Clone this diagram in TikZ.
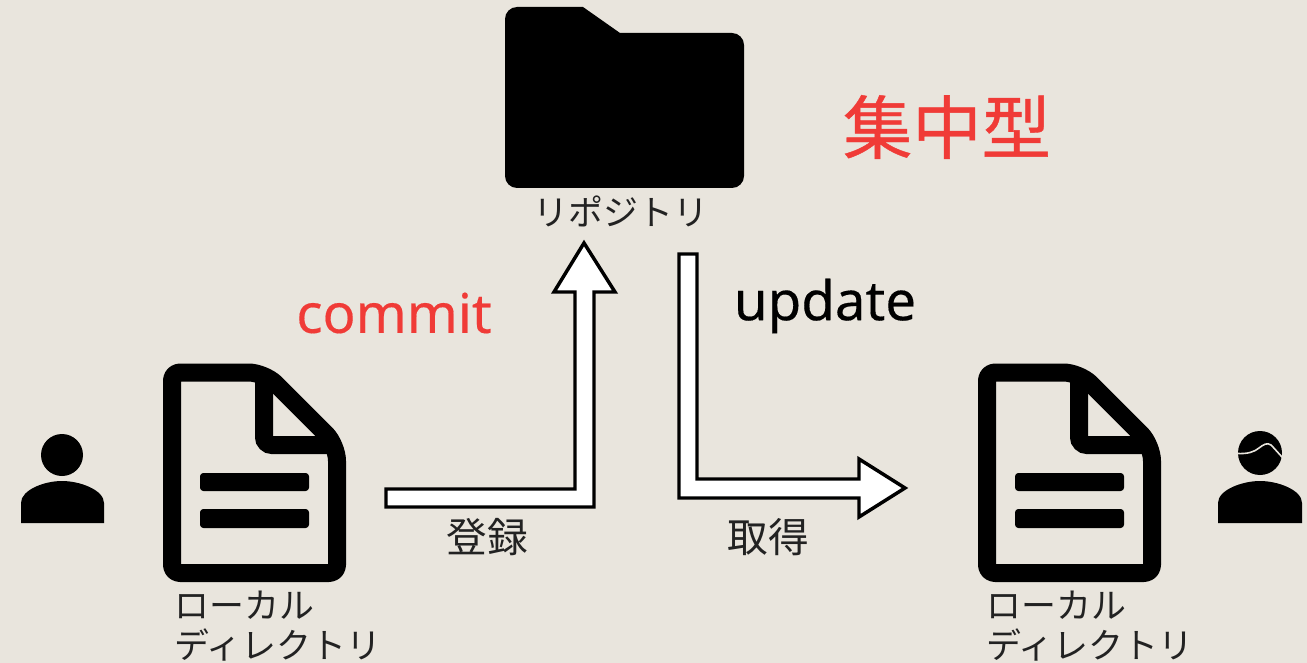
\documentclass[tikz,border=0pt]{standalone}
\usepackage{fontspec}
\setmainfont[FakeBold=0.3]{Noto Sans}
\newfontfamily\jpreg{Noto Sans CJK JP}
\newfontfamily\jpbold[FakeBold=0.6]{Noto Sans CJK JP}
\definecolor{bgc}{HTML}{E9E5DD}
\definecolor{redc}{HTML}{F03B37}
\definecolor{txtc}{HTML}{222222}
\tikzset{
  x=0.75pt,y=-0.75pt,
  kana/.style={font=\jpreg\fontsize{26.2}{30}\selectfont,text=txtc,inner sep=0pt,align=left,anchor=north west},
  kanji/.style={font=\jpreg\fontsize{30.5}{36}\selectfont,text=txtc,inner sep=0pt},
  title/.style={font=\jpbold\fontsize{52}{60}\selectfont,text=redc,inner sep=0pt},
  latin/.style={font=\fontsize{41}{48}\selectfont,inner sep=0pt},
  bigarrow/.style={draw=black,fill=white,line width=2.6pt,line join=miter,miter limit=10},
  docline/.style={fill=black,rounded corners=2.5pt},
}
\newcommand{\docicon}[1]{%
  \begin{scope}[shift={(#1,0)}]
    \draw[line width=13.5pt,line join=round,rounded corners=6pt]
      (172,372.5) [rounded corners=12pt] -- (264.5,372.5) -- (337,445) [rounded corners=6pt] -- (337,573) -- (172,573) -- cycle;
    \draw[line width=13.5pt,line cap=butt,rounded corners=6pt]
      (264,376) -- (264,445) -- (332,445);
    \fill[docline] (200,473) rectangle (309,491);
    \fill[docline] (200,509) rectangle (309,528);
  \end{scope}}
\begin{document}
\begin{tikzpicture}
\useasboundingbox (0,0) rectangle (1307,663);
\fill[bgc] (0,0) rectangle (1307,663);
% folder
\fill[black,rounded corners=9pt] (505,7) [sharp corners] -- (583,7) -- (620,33) [rounded corners=9pt] -- (744,33) -- (744,188) -- (505,188) -- cycle;
\node[kana,anchor=center] (repo) at (621,211) {リポジトリ};
% documents
\docicon{0}
\docicon{815}
\node[kana] (locala) at (174,591) {ローカル\\ディレクトリ};
\node[kana] (localb) at (986,591) {ローカル\\ディレクトリ};
% persons
\fill (62,455) circle[radius=21];
\fill (21,523) -- (21,503) .. controls (21,490) and (44,481) .. (62,481) .. controls (80,481) and (104,490) .. (104,503) -- (104,523) -- cycle;
\fill (1260,453) circle[radius=22];
\fill (1218,523) -- (1218,503) .. controls (1218,490) and (1242,481) .. (1260,481) .. controls (1278,481) and (1302,490) .. (1302,503) -- (1302,523) -- cycle;
\draw[bgc,line width=1.2pt] (1237,453.5) .. controls (1248,454) and (1254,452) .. (1259,448) .. controls (1263,445) and (1267,442) .. (1271,445) .. controls (1275,449) and (1279,454) .. (1283,458);
% arrows
\draw[bigarrow] (386,489) -- (575,489) -- (575,292) -- (554,292) -- (584,243) -- (615,292) -- (594,292) -- (594,507) -- (386,507) -- cycle;
\draw[bigarrow] (679,254) -- (697,254) -- (697,479) -- (859,479) -- (859,459) -- (905,488) -- (859,517) -- (859,498) -- (679,498) -- cycle;
% labels
\node[kanji] (reg) at (487,537) {登録};
\node[kanji] (get) at (768,537) {取得};
\node[latin,text=redc] (commit) at (394,313) {commit};
\node[latin,text=black] (update) at (825,306) {update};
\node[title] (central) at (947,127) {集中型};
\end{tikzpicture}
\end{document}
